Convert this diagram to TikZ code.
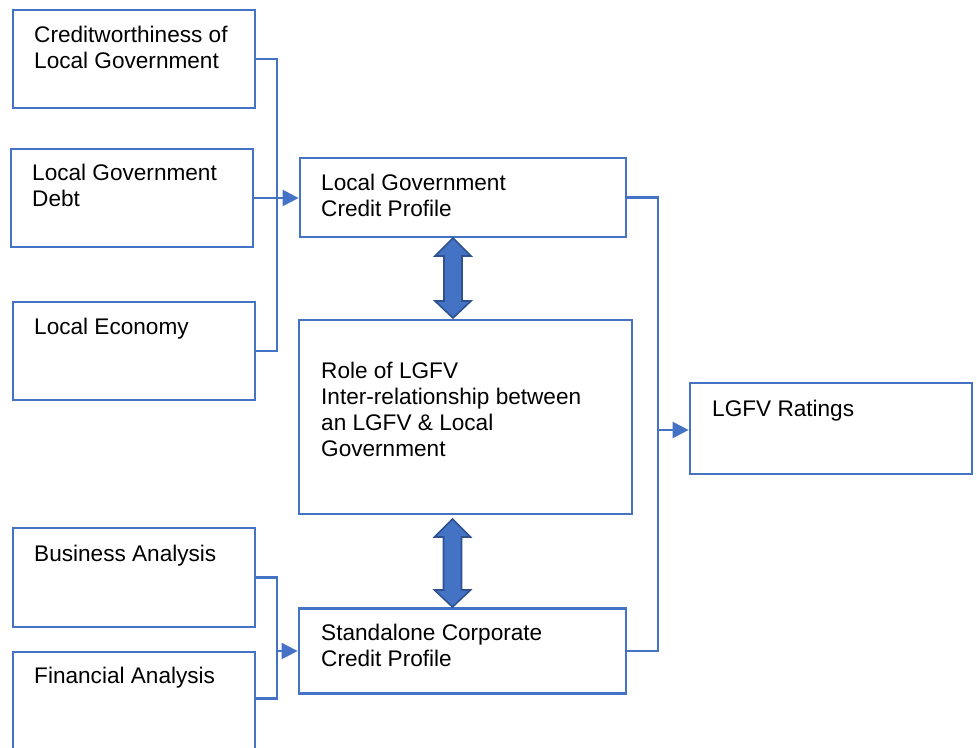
\documentclass[tikz,border=0pt]{standalone}
\usepackage{fontspec}
\setmainfont{Liberation Sans}
\usetikzlibrary{arrows.meta}
\definecolor{bblue}{HTML}{4472C4}
\definecolor{dblue}{HTML}{2F528F}
\tikzset{
  box/.style={draw=bblue, line width=2.8pt, rectangle, inner sep=0pt, fill=white},
  lbl/.style={anchor=base west, inner sep=0pt, font=\fontsize{22.6}{26}\selectfont, text=black},
  conn/.style={draw=bblue, line width=2.4pt},
  thin/.style={draw=bblue, line width=1.2pt},
  arr/.style={conn, -{Triangle[length=16pt,width=16pt]}},
  dbl/.style={fill=bblue, draw=dblue, line width=1.6pt, line join=miter}
}
\newcommand\dblarrowpath[3]{% x, ytop, ybot
  \path[dbl] (#1,#2) -- (#1+18,#2+18) -- (#1+9,#2+18) -- (#1+9,#3-17) -- (#1+18,#3-17)
    -- (#1,#3) -- (#1-18,#3-17) -- (#1-9,#3-17) -- (#1-9,#2+18) -- (#1-18,#2+18) -- cycle;}
\begin{document}
\begin{tikzpicture}[x=1pt, y=-1pt]
\useasboundingbox (0,0) rectangle (977,747);
\clip (0,0) rectangle (977,747);
\fill[white] (0,0) rectangle (977,747);
% boxes
\node[box, minimum width=242pt, minimum height=98pt] (b1) at (134,59) {};
\node[box, minimum width=242pt, minimum height=98pt] (b2) at (132,198) {};
\node[box, minimum width=242pt, minimum height=98pt] (b3) at (134,351) {};
\node[box, minimum width=326pt, minimum height=79pt] (b4) at (463,197.5) {};
\node[box, minimum width=333pt, minimum height=194pt] (b5) at (465.5,417) {};
\node[box, minimum width=282pt, minimum height=91pt] (b6) at (831,428.5) {};
\node[box, minimum width=242pt, minimum height=99pt] (b7) at (134,577.5) {};
\node[box, minimum width=242pt, minimum height=120pt] (b8) at (134,712) {};
\node[box, minimum width=327pt, minimum height=85pt] (b9) at (462.5,651) {};
% texts
\node[lbl] (t1) at (34,42) {\vtop{\hbox{Creditworthiness of}\hbox{Local Government}}};
\node[lbl] (t2) at (32,180) {\vtop{\hbox{Local Government}\hbox{Debt}}};
\node[lbl] (t3) at (34,334) {Local Economy};
\node[lbl] (t4) at (321,190) {\vtop{\hbox{Local Government}\hbox{Credit Profile}}};
\node[lbl] (t5) at (321,378) {\vtop{\hbox{Role of LGFV}\hbox{Inter-relationship between}\hbox{an LGFV \& Local}\hbox{Government}}};
\node[lbl] (t6) at (712,416) {LGFV Ratings};
\node[lbl] (t7) at (34,561) {Business Analysis};
\node[lbl] (t8) at (34,683) {Financial Analysis};
\node[lbl] (t9) at (321,640) {\vtop{\hbox{Standalone Corporate}\hbox{Credit Profile}}};
% junctions
\coordinate (jl) at (277,198);
\coordinate (jr) at (658,430);
\coordinate (jb) at (277,651);
% connectors
\draw[conn] (b1.east) -| (jl) |- (b3.east);
\draw[thin] (b2.east) -- (jl);
\draw[arr] (jl) -- (b4.west |- jl);
\draw[conn] (b4.east) -| (jr) |- (b9.east);
\draw[arr] (jr) -- (b6.west |- jr);
\draw[conn] (b7.east) -| (jb) |- ([yshift=-48pt]b8.north east);
\draw[arr] (jb) -- (b9.west);
% double arrows
\dblarrowpath{453}{238}{318}
\dblarrowpath{452.5}{519}{607}
\end{tikzpicture}
\end{document}
